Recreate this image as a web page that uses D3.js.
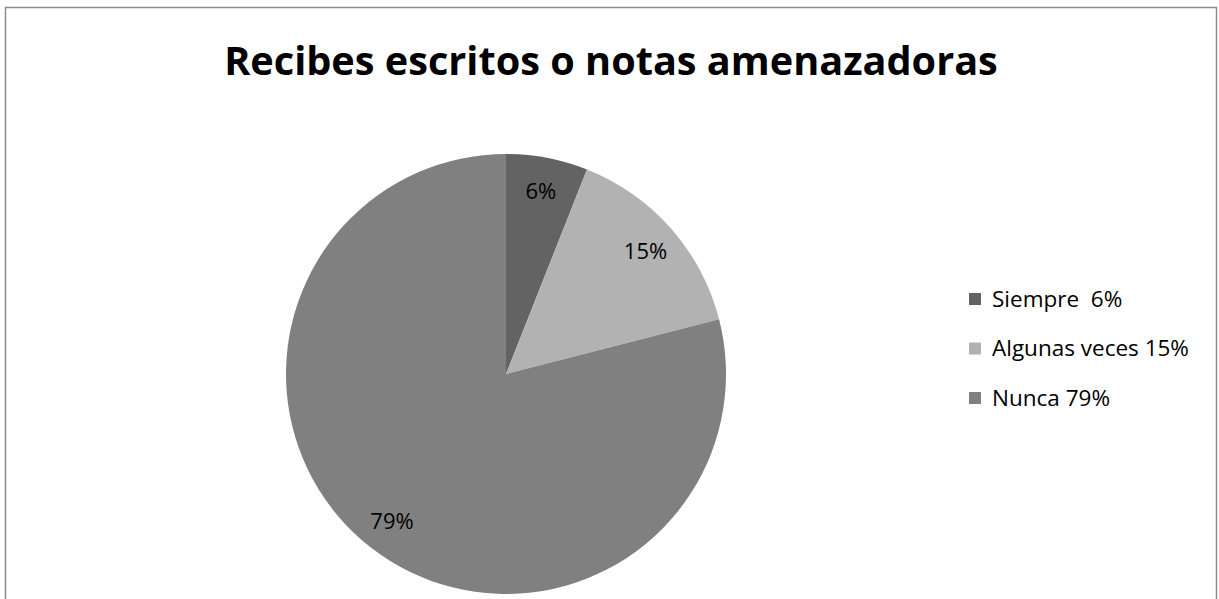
<!DOCTYPE html>
<html>
<head>
<meta charset="utf-8">
<script src="https://cdn.jsdelivr.net/npm/d3@7"></script>
<style>
  body { margin: 0; background: #fff; }
  svg { display: block; font-family: "Open Sans", "Liberation Sans", sans-serif; }
</style>
</head>
<body>
<div id="chart"></div>
<script>
// datos del gráfico
var categories = ['Siempre', 'Algunas veces', 'Nunca']
var values = [6, 15, 79]
var legendLabels = ['Siempre  6%', 'Algunas veces 15%', 'Nunca 79%']
var colors = ['#636363', '#b2b2b2', '#808080']
var title = 'Recibes escritos o notas amenazadoras'

var width = 1219, height = 599

var svg = d3.select('#chart')
  .append('svg')
  .attr('width', width)
  .attr('height', height)

// marco
svg.append('rect')
  .attr('x', 5.5)
  .attr('y', 7.5)
  .attr('width', 1211)
  .attr('height', 620)
  .attr('fill', 'white')
  .attr('stroke', '#8c8c8c')
  .attr('stroke-width', 1.5)

// título
var t = svg.append('text')
  .attr('x', 611)
  .attr('y', 75)
  .attr('text-anchor', 'middle')
  .style('font-weight', 'bold')
  .style('font-size', '38px')
  .attr('fill', '#000')
  .text(title)
var tw = t.node().getComputedTextLength()
if (tw > 0) t.style('font-size', (38 * 774 / tw) + 'px')

var cx = 506, cy = 374, r = 220

var pie = d3.pie().sort(null).value(function(d) { return d })
var arc = d3.arc().innerRadius(0).outerRadius(r)
var labelArc = d3.arc().innerRadius(186).outerRadius(186)

var g = svg.append('g').attr('transform', 'translate(' + cx + ',' + cy + ')')

var slices = g.selectAll('.slice')
  .data(pie(values))
  .enter()
  .append('g')
  .attr('class', 'slice')

slices.append('path')
  .attr('d', arc)
  .attr('fill', function(d, i) { return colors[i] })

slices.append('text')
  .attr('transform', function(d) { return 'translate(' + labelArc.centroid(d) + ')' })
  .attr('text-anchor', 'middle')
  .attr('dy', '0.35em')
  .style('font-size', '22px')
  .attr('fill', '#000')
  .text(function(d) { return d.data + '%' })

// leyenda
var ly = d3.scalePoint().domain(categories).range([299, 398])

var legend = svg.selectAll('.legend')
  .data(categories)
  .enter()
  .append('g')
  .attr('class', 'legend')
  .attr('transform', function(d) { return 'translate(969,' + ly(d) + ')' })

legend.append('rect')
  .attr('x', 0)
  .attr('y', -6)
  .attr('width', 12)
  .attr('height', 12)
  .attr('fill', function(d, i) { return colors[i] })

legend.append('text')
  .attr('x', 23)
  .attr('dy', '0.35em')
  .style('font-size', '22.5px')
  .style('white-space', 'pre')
  .attr('fill', '#000')
  .text(function(d, i) { return legendLabels[i] })
</script>
</body>
</html>
